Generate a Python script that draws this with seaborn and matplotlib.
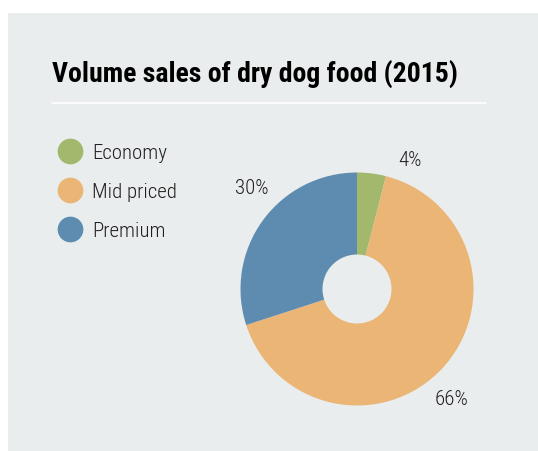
import matplotlib
matplotlib.use("Agg")
import matplotlib.pyplot as plt
from matplotlib.lines import Line2D
from matplotlib.patches import Rectangle
import seaborn as sns

# Data
segments = ["Economy", "Mid priced", "Premium"]
shares = [4, 66, 30]
colors_hex = ["#a2b86c", "#ebb575", "#5e8bb0"]
title_text = "Volume sales of dry dog food (2015)"

sns.set_theme(style="white")
plt.rcParams["font.family"] = ["Roboto Condensed", "Archivo Narrow", "DejaVu Sans"]
palette = sns.color_palette(colors_hex)

BG = "#e9eded"
INK = "#231f20"
W, H = 538, 452

fig = plt.figure(figsize=(W / 100, H / 100), dpi=100, facecolor="white")

# grey card behind everything
card = Rectangle((8 / W, 0), 1 - 8 / W, 1 - 14 / H, transform=fig.transFigure,
                 facecolor=BG, edgecolor="none", zorder=-10)
fig.add_artist(card)

# title and rule
fig.text(52 / W, 1 - 82 / H, title_text, fontsize=20, fontweight="bold",
         color="black", ha="left", va="baseline")
fig.add_artist(Line2D([52 / W, 486 / W], [1 - 104 / H, 1 - 104 / H],
                      transform=fig.transFigure, color="white", lw=1.2))

# donut
cx, cy, r = 357, 290, 116.5
ax = fig.add_axes([(cx - r) / W, (H - cy - r) / H, 2 * r / W, 2 * r / H])
ax.set_facecolor("none")
wedges, _ = ax.pie(shares, colors=palette, startangle=90, counterclock=False,
                   radius=1, wedgeprops=dict(width=1 - 34.5 / r, linewidth=0))
ax.set_xlim(-1, 1)
ax.set_ylim(-1, 1)
ax.set_aspect("equal")
ax.axis("off")

label_pos = [(0.455, 1.11), (0.815, -0.94), (-0.905, 0.87)]
for v, (lx, ly) in zip(shares, label_pos):
    ax.text(lx, ly, f"{v}%", fontsize=15, fontweight="light", color=INK,
            ha="center", va="center", clip_on=False)

# legend
handles = [Line2D([], [], marker="o", linestyle="none", markersize=18.5,
                  markerfacecolor=c, markeredgecolor="none") for c in palette]
fig.legend(handles, segments, loc="upper left",
           bbox_to_anchor=(56 / W, 1 - 144 / H), frameon=False,
           prop=dict(size=15, weight="light"), labelcolor=INK,
           labelspacing=0.96, handletextpad=0.45, borderpad=0,
           borderaxespad=0, handlelength=1.3)

fig.savefig("out.png", dpi=100, facecolor="white")
